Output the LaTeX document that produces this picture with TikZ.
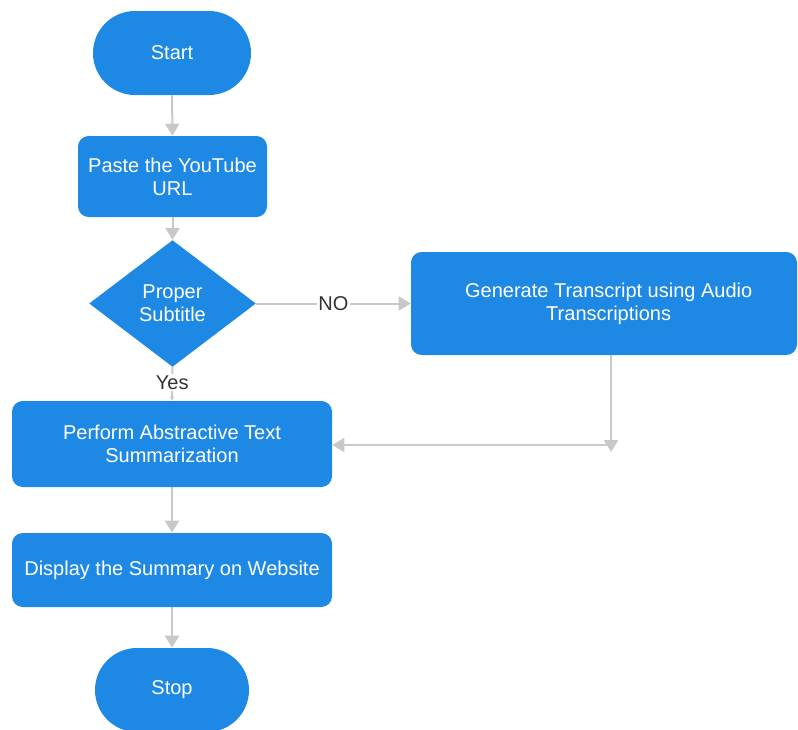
\documentclass[tikz,border=0pt]{standalone}
\usepackage{fontspec}
\setmainfont{Liberation Sans}
\usetikzlibrary{arrows.meta,shapes.geometric}
\definecolor{flowblue}{HTML}{1E88E5}
\definecolor{linegray}{HTML}{C8C8C8}
\definecolor{labelgray}{HTML}{333333}
\tikzset{
  base/.style={fill=flowblue, draw=none, text=white, font=\fontsize{15pt}{17.25pt}\selectfont, align=center, inner sep=0pt},
  terminal/.style={base, rounded corners=31.5pt, minimum width=118.5pt, minimum height=63pt},
  process/.style={base, rounded corners=8pt},
  decision/.style={base, diamond, minimum width=125pt, minimum height=95pt, aspect=1.3},
  arr/.style={draw=linegray, line width=1.5pt, -{Triangle[width=10.5pt,length=9pt]}},
  lbl/.style={fill=white, text=labelgray, font=\fontsize{15pt}{17.25pt}\selectfont, inner sep=1pt}
}
\begin{document}
\begin{tikzpicture}[x=0.75pt, y=-0.75pt]
  \useasboundingbox (0,0) rectangle (798,729);
  \clip (0,0) rectangle (798,729);

  \node[terminal] (start) at (172,53) {Start};
  \node[process, minimum width=141.75pt, minimum height=60.75pt] (paste) at (172.5,176.5) {Paste the YouTube\\URL};
  \node[decision] (dec) at (172.5,303.5) {Proper\\Subtitle};
  \node[process, minimum width=289.5pt, minimum height=77.25pt] (gen) at (604,303.5) {\hspace*{7pt}Generate Transcript using Audio\\\hspace*{7pt}Transcriptions};
  \node[process, minimum width=240pt, minimum height=64.5pt] (perf) at (172,444) {Perform Abstractive Text\\Summarization};
  \node[process, minimum width=240pt, minimum height=55.5pt] (disp) at (172,570) {Display the Summary on Website};
  \node[terminal, minimum width=115.5pt] (stop) at (172,690) {Stop};

  \coordinate (join) at (611,452);

  \draw[arr] (start) -- (paste);
  \draw[arr] (paste) -- (dec);
  \draw[arr] (dec.east) -- node[lbl] {NO} (gen.west);
  \draw[arr, -{Triangle[width=3pt,length=3pt]}] (dec.south) -- node[lbl, pos=0.45] {Yes} (perf.north);
  \draw[arr] (gen.south -| join) -- (join);
  \draw[arr] (611,445) -- (perf.east |- 0,445);
  \draw[arr] (perf) -- (disp);
  \draw[arr] (disp) -- (stop);
\end{tikzpicture}
\end{document}
